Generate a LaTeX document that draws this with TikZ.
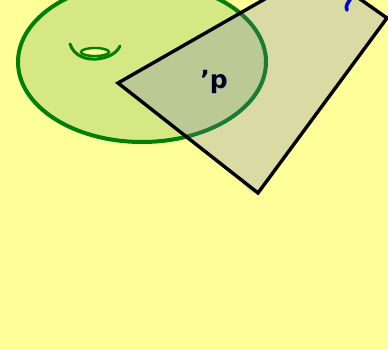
\documentclass[tikz,border=0pt]{standalone}
\usepackage{fontspec}
\setmainfont{DejaVu Sans}
\begin{document}
\begin{tikzpicture}[x=1pt,y=-1pt,
  greenline/.style={draw=green!50!black,line width=4pt},
  quadline/.style={draw=black,line width=3.4pt,line join=miter},
  handtext/.style={font=\bfseries\fontsize{25}{25}\selectfont,text=black!85!blue}]
\useasboundingbox (0,0) rectangle (388,350);
\fill[fill={rgb,255:red,255;green,255;blue,153}] (0,0) rectangle (388,350);
\clip (0,0) rectangle (388,350);
% ellipse
\coordinate (ec) at (142,62);
\filldraw[greenline,fill={rgb,255:red,214;green,232;blue,132}] (ec) ellipse [x radius=124, y radius=80];
% green mark
\filldraw[green!50!black,line width=2.4pt,fill={rgb,255:red,255;green,255;blue,153}] (95,52) ellipse [x radius=14, y radius=4];
\draw[green!50!black,line width=3pt,line cap=round] (70,44) .. controls (74,56) and (86,60) .. (97,59) .. controls (108,58) and (117,53) .. (120,46);
% shadow
\fill[gray!60,opacity=0.35] (240,180) -- (258,194) -- (250,192) -- cycle;
% quadrilateral
\coordinate (qa) at (118,83);
\coordinate (qb) at (258,193);
\coordinate (qc) at (387,18);
\coordinate (qd) at (340,-15);
\coordinate (qe) at (340,-44);
\filldraw[quadline,fill={rgb,255:red,110;green,110;blue,200},fill opacity=0.25] (qa) -- (qb) -- (qc) -- (qd) -- (qe) -- cycle;
% text
\node[handtext] (p) at (214,82) {'p};
% blue mark
\draw[blue!80!black,line width=3.6pt,line cap=round] (351,-2) .. controls (348,3) and (345,6) .. (347,10);
\end{tikzpicture}
\end{document}
